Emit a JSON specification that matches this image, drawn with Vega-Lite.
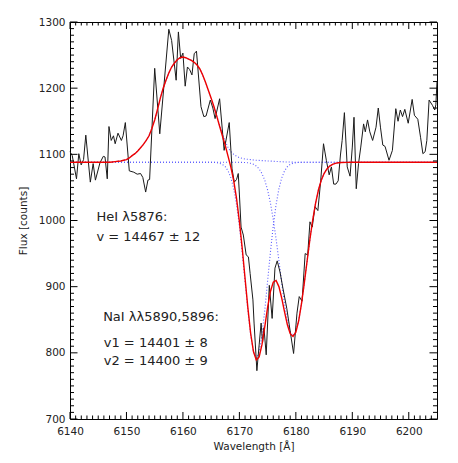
{
  "$schema": "https://vega.github.io/schema/vega-lite/v6.json",
  "width": 367,
  "height": 397,
  "autosize": {"type": "none"},
  "padding": {"left": 70, "right": 21, "top": 22, "bottom": 44},
  "background": "white",
  "config": {
    "view": {"stroke": "#000", "strokeWidth": 1},
    "axis": {
      "grid": false,
      "domain": false,
      "ticks": false,
      "labelFont": "DejaVu Sans",
      "labelFontSize": 10.5,
      "labelColor": "#222",
      "titleFont": "DejaVu Sans",
      "titleFontSize": 10.5,
      "titleFontWeight": "normal",
      "titleColor": "#222"
    }
  },
  "datasets": {
    "xmaj": [{"lam": 6140}, {"lam": 6150}, {"lam": 6160}, {"lam": 6170}, {"lam": 6180}, {"lam": 6190}, {"lam": 6200}],
    "xmin": [{"lam": 6141}, {"lam": 6142}, {"lam": 6143}, {"lam": 6144}, {"lam": 6145}, {"lam": 6146}, {"lam": 6147}, {"lam": 6148}, {"lam": 6149},
             {"lam": 6151}, {"lam": 6152}, {"lam": 6153}, {"lam": 6154}, {"lam": 6155}, {"lam": 6156}, {"lam": 6157}, {"lam": 6158}, {"lam": 6159},
             {"lam": 6161}, {"lam": 6162}, {"lam": 6163}, {"lam": 6164}, {"lam": 6165}, {"lam": 6166}, {"lam": 6167}, {"lam": 6168}, {"lam": 6169},
             {"lam": 6171}, {"lam": 6172}, {"lam": 6173}, {"lam": 6174}, {"lam": 6175}, {"lam": 6176}, {"lam": 6177}, {"lam": 6178}, {"lam": 6179},
             {"lam": 6181}, {"lam": 6182}, {"lam": 6183}, {"lam": 6184}, {"lam": 6185}, {"lam": 6186}, {"lam": 6187}, {"lam": 6188}, {"lam": 6189},
             {"lam": 6191}, {"lam": 6192}, {"lam": 6193}, {"lam": 6194}, {"lam": 6195}, {"lam": 6196}, {"lam": 6197}, {"lam": 6198}, {"lam": 6199},
             {"lam": 6201}, {"lam": 6202}, {"lam": 6203}, {"lam": 6204}],
    "ymaj": [{"flux": 700}, {"flux": 800}, {"flux": 900}, {"flux": 1000}, {"flux": 1100}, {"flux": 1200}, {"flux": 1300}],
    "ymin": [{"flux": 710}, {"flux": 720}, {"flux": 730}, {"flux": 740}, {"flux": 750}, {"flux": 760}, {"flux": 770}, {"flux": 780}, {"flux": 790},
             {"flux": 810}, {"flux": 820}, {"flux": 830}, {"flux": 840}, {"flux": 850}, {"flux": 860}, {"flux": 870}, {"flux": 880}, {"flux": 890},
             {"flux": 910}, {"flux": 920}, {"flux": 930}, {"flux": 940}, {"flux": 950}, {"flux": 960}, {"flux": 970}, {"flux": 980}, {"flux": 990},
             {"flux": 1010}, {"flux": 1020}, {"flux": 1030}, {"flux": 1040}, {"flux": 1050}, {"flux": 1060}, {"flux": 1070}, {"flux": 1080}, {"flux": 1090},
             {"flux": 1110}, {"flux": 1120}, {"flux": 1130}, {"flux": 1140}, {"flux": 1150}, {"flux": 1160}, {"flux": 1170}, {"flux": 1180}, {"flux": 1190},
             {"flux": 1210}, {"flux": 1220}, {"flux": 1230}, {"flux": 1240}, {"flux": 1250}, {"flux": 1260}, {"flux": 1270}, {"flux": 1280}, {"flux": 1290}],
    "spec": [
      {"lam": 6140.0, "flux": 1104}, {"lam": 6140.4, "flux": 1098}, {"lam": 6141.15, "flux": 1063},
      {"lam": 6141.56, "flux": 1101}, {"lam": 6141.98, "flux": 1084}, {"lam": 6142.4, "flux": 1092},
      {"lam": 6142.8, "flux": 1129}, {"lam": 6143.6, "flux": 1058}, {"lam": 6144.1, "flux": 1086},
      {"lam": 6144.5, "flux": 1061}, {"lam": 6145.3, "flux": 1087}, {"lam": 6145.9, "flux": 1097},
      {"lam": 6146.2, "flux": 1096}, {"lam": 6146.6, "flux": 1063}, {"lam": 6146.9, "flux": 1142},
      {"lam": 6147.3, "flux": 1121}, {"lam": 6147.7, "flux": 1128}, {"lam": 6148.0, "flux": 1116},
      {"lam": 6148.5, "flux": 1132}, {"lam": 6149.1, "flux": 1121}, {"lam": 6149.4, "flux": 1128},
      {"lam": 6149.8, "flux": 1148}, {"lam": 6150.5, "flux": 1075}, {"lam": 6151.3, "flux": 1073},
      {"lam": 6151.9, "flux": 1070}, {"lam": 6152.5, "flux": 1071}, {"lam": 6152.9, "flux": 1065},
      {"lam": 6153.4, "flux": 1043}, {"lam": 6153.8, "flux": 1061}, {"lam": 6154.1, "flux": 1062},
      {"lam": 6155.0, "flux": 1230}, {"lam": 6155.9, "flux": 1131}, {"lam": 6157.5, "flux": 1289},
      {"lam": 6158.0, "flux": 1272}, {"lam": 6158.8, "flux": 1212}, {"lam": 6159.2, "flux": 1285},
      {"lam": 6159.6, "flux": 1245}, {"lam": 6160.0, "flux": 1253}, {"lam": 6160.4, "flux": 1203},
      {"lam": 6160.8, "flux": 1232}, {"lam": 6161.2, "flux": 1228}, {"lam": 6161.6, "flux": 1220},
      {"lam": 6162.0, "flux": 1252}, {"lam": 6162.4, "flux": 1256}, {"lam": 6163.2, "flux": 1172},
      {"lam": 6163.7, "flux": 1157}, {"lam": 6164.1, "flux": 1158}, {"lam": 6164.85, "flux": 1182},
      {"lam": 6165.3, "flux": 1170}, {"lam": 6165.7, "flux": 1154}, {"lam": 6166.5, "flux": 1184},
      {"lam": 6167.3, "flux": 1106}, {"lam": 6168.2, "flux": 1148}, {"lam": 6168.7, "flux": 1078},
      {"lam": 6169.1, "flux": 1058}, {"lam": 6169.5, "flux": 1062}, {"lam": 6169.8, "flux": 1071},
      {"lam": 6170.0, "flux": 1040}, {"lam": 6170.3, "flux": 990}, {"lam": 6170.7, "flux": 978},
      {"lam": 6171.2, "flux": 948}, {"lam": 6171.6, "flux": 945}, {"lam": 6171.9, "flux": 920},
      {"lam": 6172.4, "flux": 880}, {"lam": 6172.6, "flux": 845}, {"lam": 6173.1, "flux": 773},
      {"lam": 6173.5, "flux": 812}, {"lam": 6173.85, "flux": 845}, {"lam": 6174.1, "flux": 815},
      {"lam": 6174.35, "flux": 838}, {"lam": 6174.75, "flux": 797}, {"lam": 6175.3, "flux": 902},
      {"lam": 6175.8, "flux": 852}, {"lam": 6176.3, "flux": 928}, {"lam": 6176.7, "flux": 939},
      {"lam": 6177.2, "flux": 922}, {"lam": 6177.7, "flux": 898}, {"lam": 6178.4, "flux": 867},
      {"lam": 6179.1, "flux": 827}, {"lam": 6179.6, "flux": 799}, {"lam": 6180.2, "flux": 860},
      {"lam": 6180.6, "flux": 885}, {"lam": 6181.1, "flux": 878}, {"lam": 6181.65, "flux": 950},
      {"lam": 6182.1, "flux": 948}, {"lam": 6182.5, "flux": 998}, {"lam": 6182.9, "flux": 990},
      {"lam": 6183.4, "flux": 1021}, {"lam": 6183.9, "flux": 1015}, {"lam": 6184.4, "flux": 1060},
      {"lam": 6184.9, "flux": 1116}, {"lam": 6185.4, "flux": 1091}, {"lam": 6185.9, "flux": 1069},
      {"lam": 6186.3, "flux": 1081}, {"lam": 6186.7, "flux": 1055}, {"lam": 6187.1, "flux": 1055},
      {"lam": 6187.5, "flux": 1060}, {"lam": 6187.9, "flux": 1099}, {"lam": 6188.2, "flux": 1121},
      {"lam": 6188.6, "flux": 1163}, {"lam": 6189.1, "flux": 1081}, {"lam": 6189.6, "flux": 1067},
      {"lam": 6190.0, "flux": 1111}, {"lam": 6190.3, "flux": 1156}, {"lam": 6190.7, "flux": 1048},
      {"lam": 6191.1, "flux": 1086}, {"lam": 6191.5, "flux": 1111}, {"lam": 6192.0, "flux": 1146},
      {"lam": 6192.3, "flux": 1134}, {"lam": 6192.7, "flux": 1152}, {"lam": 6193.1, "flux": 1134},
      {"lam": 6193.6, "flux": 1121}, {"lam": 6194.2, "flux": 1141}, {"lam": 6194.6, "flux": 1170},
      {"lam": 6195.0, "flux": 1140}, {"lam": 6195.4, "flux": 1114}, {"lam": 6195.8, "flux": 1112},
      {"lam": 6196.5, "flux": 1091}, {"lam": 6197.1, "flux": 1106}, {"lam": 6197.7, "flux": 1169},
      {"lam": 6198.1, "flux": 1150}, {"lam": 6198.5, "flux": 1167}, {"lam": 6198.9, "flux": 1157},
      {"lam": 6199.3, "flux": 1168}, {"lam": 6199.9, "flux": 1147}, {"lam": 6200.6, "flux": 1183},
      {"lam": 6201.0, "flux": 1159}, {"lam": 6201.6, "flux": 1153}, {"lam": 6202.1, "flux": 1125},
      {"lam": 6202.5, "flux": 1101}, {"lam": 6202.9, "flux": 1104}, {"lam": 6203.2, "flux": 1121},
      {"lam": 6203.6, "flux": 1182}, {"lam": 6204.2, "flux": 1174}, {"lam": 6204.6, "flux": 1167},
      {"lam": 6204.8, "flux": 1175}, {"lam": 6205.0, "flux": 1210}
    ],
    "model": [
      {"lam": 6140, "fit": 1088, "he": 1088, "d2": 1088, "d1": 1088},
      {"lam": 6145, "fit": 1088, "he": 1088, "d2": 1088, "d1": 1088},
      {"lam": 6147, "fit": 1088, "he": 1088, "d2": 1088, "d1": 1088},
      {"lam": 6147.5, "fit": 1088.5, "he": 1088.5, "d2": 1088, "d1": 1088},
      {"lam": 6148, "fit": 1089, "he": 1089, "d2": 1088, "d1": 1088},
      {"lam": 6148.5, "fit": 1089.5, "he": 1089.5, "d2": 1088, "d1": 1088},
      {"lam": 6149, "fit": 1090, "he": 1090, "d2": 1088, "d1": 1088},
      {"lam": 6149.5, "fit": 1091, "he": 1091, "d2": 1088, "d1": 1088},
      {"lam": 6150, "fit": 1092, "he": 1092, "d2": 1088, "d1": 1088},
      {"lam": 6150.5, "fit": 1094.5, "he": 1094.5, "d2": 1088, "d1": 1088},
      {"lam": 6151, "fit": 1098, "he": 1098, "d2": 1088, "d1": 1088},
      {"lam": 6151.5, "fit": 1101, "he": 1101, "d2": 1088, "d1": 1088},
      {"lam": 6152, "fit": 1105, "he": 1105, "d2": 1088, "d1": 1088},
      {"lam": 6152.5, "fit": 1110, "he": 1110, "d2": 1088, "d1": 1088},
      {"lam": 6153, "fit": 1115, "he": 1115, "d2": 1088, "d1": 1088},
      {"lam": 6153.5, "fit": 1121, "he": 1121, "d2": 1088, "d1": 1088},
      {"lam": 6154, "fit": 1128, "he": 1128, "d2": 1088, "d1": 1088},
      {"lam": 6154.5, "fit": 1139, "he": 1139, "d2": 1088, "d1": 1088},
      {"lam": 6155, "fit": 1152, "he": 1152, "d2": 1088, "d1": 1088},
      {"lam": 6155.5, "fit": 1168, "he": 1168, "d2": 1088, "d1": 1088},
      {"lam": 6156, "fit": 1185, "he": 1185, "d2": 1088, "d1": 1088},
      {"lam": 6156.5, "fit": 1200, "he": 1200, "d2": 1088, "d1": 1088},
      {"lam": 6157, "fit": 1212, "he": 1212, "d2": 1088, "d1": 1088},
      {"lam": 6157.5, "fit": 1223, "he": 1223, "d2": 1088, "d1": 1088},
      {"lam": 6158, "fit": 1232, "he": 1232, "d2": 1088, "d1": 1088},
      {"lam": 6158.5, "fit": 1238, "he": 1238, "d2": 1088, "d1": 1088},
      {"lam": 6159, "fit": 1243, "he": 1243, "d2": 1088, "d1": 1088},
      {"lam": 6159.5, "fit": 1246, "he": 1246, "d2": 1088, "d1": 1088},
      {"lam": 6160, "fit": 1247, "he": 1247, "d2": 1088, "d1": 1088},
      {"lam": 6160.5, "fit": 1246, "he": 1246, "d2": 1088, "d1": 1088},
      {"lam": 6161, "fit": 1244, "he": 1244, "d2": 1088, "d1": 1088},
      {"lam": 6161.5, "fit": 1242, "he": 1242, "d2": 1088, "d1": 1088},
      {"lam": 6162, "fit": 1239, "he": 1239, "d2": 1088, "d1": 1088},
      {"lam": 6162.5, "fit": 1235, "he": 1235, "d2": 1088, "d1": 1088},
      {"lam": 6163, "fit": 1229, "he": 1229, "d2": 1088, "d1": 1088},
      {"lam": 6163.5, "fit": 1220, "he": 1220, "d2": 1088, "d1": 1088},
      {"lam": 6164, "fit": 1209, "he": 1209, "d2": 1088, "d1": 1088},
      {"lam": 6164.5, "fit": 1197, "he": 1197, "d2": 1088, "d1": 1088},
      {"lam": 6165, "fit": 1184.9, "he": 1185, "d2": 1087.9, "d1": 1088},
      {"lam": 6165.5, "fit": 1171.8, "he": 1172, "d2": 1087.8, "d1": 1088},
      {"lam": 6166, "fit": 1157.4, "he": 1158, "d2": 1087.4, "d1": 1088},
      {"lam": 6166.5, "fit": 1142.5, "he": 1144, "d2": 1086.5, "d1": 1088},
      {"lam": 6167, "fit": 1127.7, "he": 1131, "d2": 1084.7, "d1": 1088},
      {"lam": 6167.5, "fit": 1113.3, "he": 1120, "d2": 1081.3, "d1": 1088},
      {"lam": 6168, "fit": 1097, "he": 1110, "d2": 1075, "d1": 1088},
      {"lam": 6168.5, "fit": 1080.4, "he": 1104, "d2": 1064.4, "d1": 1088},
      {"lam": 6169, "fit": 1059.9, "he": 1100, "d2": 1047.9, "d1": 1088},
      {"lam": 6169.5, "fit": 1033, "he": 1097, "d2": 1024, "d1": 1088},
      {"lam": 6170, "fit": 998.8, "he": 1095, "d2": 991.9, "d1": 1087.9},
      {"lam": 6170.5, "fit": 958.3, "he": 1094, "d2": 952.5, "d1": 1087.8},
      {"lam": 6171, "fit": 913.1, "he": 1093, "d2": 908.5, "d1": 1087.6},
      {"lam": 6171.5, "fit": 868.3, "he": 1092.5, "d2": 864.6, "d1": 1087.2},
      {"lam": 6172, "fit": 829.2, "he": 1092, "d2": 826.8, "d1": 1086.4},
      {"lam": 6172.5, "fit": 801.5, "he": 1091.5, "d2": 801.1, "d1": 1084.9},
      {"lam": 6173, "fit": 789.3, "he": 1091, "d2": 792, "d1": 1082.3},
      {"lam": 6173.5, "fit": 793.8, "he": 1090.8, "d2": 801.1, "d1": 1077.9},
      {"lam": 6174, "fit": 812.3, "he": 1090.5, "d2": 826.8, "d1": 1071},
      {"lam": 6174.5, "fit": 839.5, "he": 1090.2, "d2": 864.6, "d1": 1060.7},
      {"lam": 6175, "fit": 868.6, "he": 1090, "d2": 908.5, "d1": 1046.1},
      {"lam": 6175.5, "fit": 892.7, "he": 1089.8, "d2": 952.5, "d1": 1026.4},
      {"lam": 6176, "fit": 906.9, "he": 1089.5, "d2": 991.9, "d1": 1001.5},
      {"lam": 6176.5, "fit": 909.3, "he": 1089.3, "d2": 1024, "d1": 972},
      {"lam": 6177, "fit": 900.1, "he": 1089, "d2": 1047.9, "d1": 939.2},
      {"lam": 6177.5, "fit": 882.8, "he": 1088.8, "d2": 1064.4, "d1": 905.6},
      {"lam": 6178, "fit": 861.8, "he": 1088.5, "d2": 1075, "d1": 874.3},
      {"lam": 6178.5, "fit": 842.4, "he": 1088.4, "d2": 1081.3, "d1": 848.7},
      {"lam": 6179, "fit": 828.9, "he": 1088.3, "d2": 1084.7, "d1": 831.9},
      {"lam": 6179.5, "fit": 824.7, "he": 1088.2, "d2": 1086.5, "d1": 826},
      {"lam": 6180, "fit": 831.3, "he": 1088, "d2": 1087.4, "d1": 831.9},
      {"lam": 6180.5, "fit": 848.5, "he": 1088, "d2": 1087.8, "d1": 848.7},
      {"lam": 6181, "fit": 874.2, "he": 1088, "d2": 1087.9, "d1": 874.3},
      {"lam": 6181.5, "fit": 905.6, "he": 1088, "d2": 1088, "d1": 905.6},
      {"lam": 6182, "fit": 939.2, "he": 1088, "d2": 1088, "d1": 939.2},
      {"lam": 6182.5, "fit": 972, "he": 1088, "d2": 1088, "d1": 972},
      {"lam": 6183, "fit": 1001.5, "he": 1088, "d2": 1088, "d1": 1001.5},
      {"lam": 6183.5, "fit": 1026.4, "he": 1088, "d2": 1088, "d1": 1026.4},
      {"lam": 6184, "fit": 1046.1, "he": 1088, "d2": 1088, "d1": 1046.1},
      {"lam": 6184.5, "fit": 1060.7, "he": 1088, "d2": 1088, "d1": 1060.7},
      {"lam": 6185, "fit": 1071, "he": 1088, "d2": 1088, "d1": 1071},
      {"lam": 6185.5, "fit": 1077.9, "he": 1088, "d2": 1088, "d1": 1077.9},
      {"lam": 6186, "fit": 1082.3, "he": 1088, "d2": 1088, "d1": 1082.3},
      {"lam": 6186.5, "fit": 1084.9, "he": 1088, "d2": 1088, "d1": 1084.9},
      {"lam": 6187, "fit": 1086.4, "he": 1088, "d2": 1088, "d1": 1086.4},
      {"lam": 6187.5, "fit": 1087.2, "he": 1088, "d2": 1088, "d1": 1087.2},
      {"lam": 6188, "fit": 1087.6, "he": 1088, "d2": 1088, "d1": 1087.6},
      {"lam": 6189, "fit": 1087.9, "he": 1088, "d2": 1088, "d1": 1087.9},
      {"lam": 6190, "fit": 1088, "he": 1088, "d2": 1088, "d1": 1088},
      {"lam": 6195, "fit": 1088, "he": 1088, "d2": 1088, "d1": 1088},
      {"lam": 6200, "fit": 1088, "he": 1088, "d2": 1088, "d1": 1088},
      {"lam": 6205, "fit": 1088, "he": 1088, "d2": 1088, "d1": 1088}
    ],
    "labels": [
      {"lam": 6144.69, "flux": 1004.6, "t": "HeI λ5876:"},
      {"lam": 6144.69, "flux": 975.3, "t": "v = 14467 ± 12"},
      {"lam": 6145.87, "flux": 854.5, "t": "NaI λλ5890,5896:"},
      {"lam": 6145.98, "flux": 815.3, "t": "v1 = 14401 ± 8"},
      {"lam": 6145.98, "flux": 788.1, "t": "v2 = 14400 ± 9"}
    ]
  },
  "resolve": {"axis": {"x": "independent", "y": "independent"}},
  "layer": [
    {
      "data": {"name": "model"},
      "mark": {"type": "line", "color": "#5a5aff", "strokeWidth": 1.1, "strokeDash": [1, 2]},
      "encoding": {
        "x": {"field": "lam", "type": "quantitative", "scale": {"domain": [6140, 6205], "nice": false, "zero": false}, "axis": null},
        "y": {"field": "he", "type": "quantitative", "scale": {"domain": [700, 1300], "nice": false, "zero": false}, "axis": null}
      }
    },
    {
      "data": {"name": "model"},
      "mark": {"type": "line", "color": "#5a5aff", "strokeWidth": 1.1, "strokeDash": [1, 2]},
      "encoding": {
        "x": {"field": "lam", "type": "quantitative", "scale": {"domain": [6140, 6205], "nice": false, "zero": false}, "axis": null},
        "y": {"field": "d2", "type": "quantitative", "scale": {"domain": [700, 1300], "nice": false, "zero": false}, "axis": null}
      }
    },
    {
      "data": {"name": "model"},
      "mark": {"type": "line", "color": "#5a5aff", "strokeWidth": 1.1, "strokeDash": [1, 2]},
      "encoding": {
        "x": {"field": "lam", "type": "quantitative", "scale": {"domain": [6140, 6205], "nice": false, "zero": false}, "axis": null},
        "y": {"field": "d1", "type": "quantitative", "scale": {"domain": [700, 1300], "nice": false, "zero": false}, "axis": null}
      }
    },
    {
      "data": {"name": "spec"},
      "mark": {"type": "line", "color": "#1a1a1a", "strokeWidth": 1},
      "encoding": {
        "x": {
          "field": "lam", "type": "quantitative",
          "scale": {"domain": [6140, 6205], "nice": false, "zero": false},
          "axis": {
            "orient": "bottom",
            "values": [6140,6150,6160,6170,6180,6190,6200],
            "format": "d",
            "ticks": false,
            "domain": false,
            "labelPadding": 7,
            "labelOverlap": false,
            "labelFlush": false,
            "title": "Wavelength [Å]",
            "titlePadding": 5
          }
        },
        "y": {
          "field": "flux", "type": "quantitative",
          "scale": {"domain": [700, 1300], "nice": false, "zero": false},
          "axis": {
            "orient": "left",
            "values": [700,800,900,1000,1100,1200,1300],
            "format": "d",
            "ticks": false,
            "domain": false,
            "labelPadding": 5,
            "labelOverlap": false,
            "labelFlush": false,
            "title": "Flux [counts]",
            "titlePadding": 10
          }
        }
      }
    },
    {
      "data": {"name": "model"},
      "mark": {"type": "line", "color": "#ee0000", "strokeWidth": 1.4},
      "encoding": {
        "x": {"field": "lam", "type": "quantitative", "scale": {"domain": [6140, 6205], "nice": false, "zero": false}, "axis": null},
        "y": {"field": "fit", "type": "quantitative", "scale": {"domain": [700, 1300], "nice": false, "zero": false}, "axis": null}
      }
    },
    {
      "data": {"name": "xmaj"},
      "mark": {"type": "rule", "color": "#000", "strokeWidth": 1},
      "encoding": {
        "x": {"field": "lam", "type": "quantitative", "scale": {"domain": [6140, 6205], "nice": false, "zero": false}, "axis": null},
        "y": {"datum": 700, "type": "quantitative", "scale": {"domain": [700, 1300], "nice": false, "zero": false}, "axis": null},
        "y2": {"datum": 710.6}
      }
    },
    {
      "data": {"name": "xmaj"},
      "mark": {"type": "rule", "color": "#000", "strokeWidth": 1},
      "encoding": {
        "x": {"field": "lam", "type": "quantitative", "scale": {"domain": [6140, 6205], "nice": false, "zero": false}, "axis": null},
        "y": {"datum": 1300, "type": "quantitative", "scale": {"domain": [700, 1300], "nice": false, "zero": false}, "axis": null},
        "y2": {"datum": 1289.4}
      }
    },
    {
      "data": {"name": "xmin"},
      "mark": {"type": "rule", "color": "#000", "strokeWidth": 1},
      "encoding": {
        "x": {"field": "lam", "type": "quantitative", "scale": {"domain": [6140, 6205], "nice": false, "zero": false}, "axis": null},
        "y": {"datum": 700, "type": "quantitative", "scale": {"domain": [700, 1300], "nice": false, "zero": false}, "axis": null},
        "y2": {"datum": 705.3}
      }
    },
    {
      "data": {"name": "xmin"},
      "mark": {"type": "rule", "color": "#000", "strokeWidth": 1},
      "encoding": {
        "x": {"field": "lam", "type": "quantitative", "scale": {"domain": [6140, 6205], "nice": false, "zero": false}, "axis": null},
        "y": {"datum": 1300, "type": "quantitative", "scale": {"domain": [700, 1300], "nice": false, "zero": false}, "axis": null},
        "y2": {"datum": 1294.7}
      }
    },
    {
      "data": {"name": "ymaj"},
      "mark": {"type": "rule", "color": "#000", "strokeWidth": 1},
      "encoding": {
        "y": {"field": "flux", "type": "quantitative", "scale": {"domain": [700, 1300], "nice": false, "zero": false}, "axis": null},
        "x": {"datum": 6140, "type": "quantitative", "scale": {"domain": [6140, 6205], "nice": false, "zero": false}, "axis": null},
        "x2": {"datum": 6141.33}
      }
    },
    {
      "data": {"name": "ymaj"},
      "mark": {"type": "rule", "color": "#000", "strokeWidth": 1},
      "encoding": {
        "y": {"field": "flux", "type": "quantitative", "scale": {"domain": [700, 1300], "nice": false, "zero": false}, "axis": null},
        "x": {"datum": 6205, "type": "quantitative", "scale": {"domain": [6140, 6205], "nice": false, "zero": false}, "axis": null},
        "x2": {"datum": 6203.67}
      }
    },
    {
      "data": {"name": "ymin"},
      "mark": {"type": "rule", "color": "#000", "strokeWidth": 1},
      "encoding": {
        "y": {"field": "flux", "type": "quantitative", "scale": {"domain": [700, 1300], "nice": false, "zero": false}, "axis": null},
        "x": {"datum": 6140, "type": "quantitative", "scale": {"domain": [6140, 6205], "nice": false, "zero": false}, "axis": null},
        "x2": {"datum": 6140.71}
      }
    },
    {
      "data": {"name": "ymin"},
      "mark": {"type": "rule", "color": "#000", "strokeWidth": 1},
      "encoding": {
        "y": {"field": "flux", "type": "quantitative", "scale": {"domain": [700, 1300], "nice": false, "zero": false}, "axis": null},
        "x": {"datum": 6205, "type": "quantitative", "scale": {"domain": [6140, 6205], "nice": false, "zero": false}, "axis": null},
        "x2": {"datum": 6204.29}
      }
    },
    {
      "data": {"name": "labels"},
      "mark": {"type": "text", "align": "left", "baseline": "middle", "font": "DejaVu Sans", "fontSize": 13, "color": "#222"},
      "encoding": {
        "x": {"field": "lam", "type": "quantitative", "scale": {"domain": [6140, 6205], "nice": false, "zero": false}, "axis": null},
        "y": {"field": "flux", "type": "quantitative", "scale": {"domain": [700, 1300], "nice": false, "zero": false}, "axis": null},
        "text": {"field": "t", "type": "nominal"}
      }
    }
  ]
}
